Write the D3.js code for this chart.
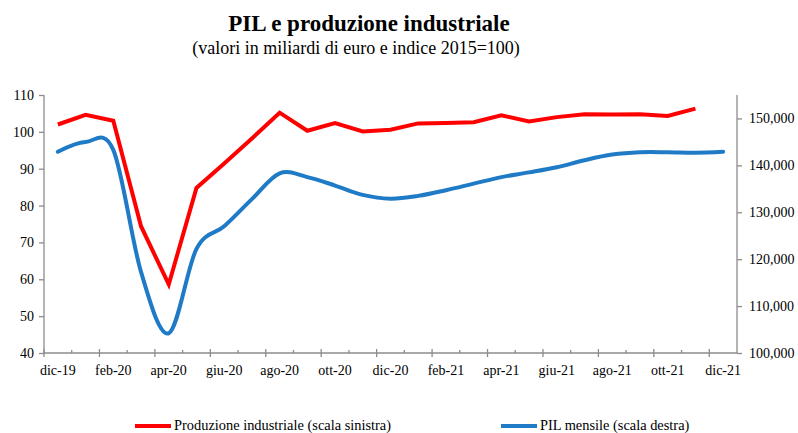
<!DOCTYPE html>
<html>
<head>
<meta charset="utf-8">
<script src="https://cdn.jsdelivr.net/npm/d3@7"></script>
<style>
  body { margin: 0; background: #fff; }
  text { font-family: "Liberation Serif", "Times New Roman", serif; fill: #000; }
</style>
</head>
<body>
<div id="chart"></div>
<script>
// data
const months = ["dic-19","gen-20","feb-20","mar-20","apr-20","mag-20","giu-20","lug-20","ago-20","set-20","ott-20","nov-20",
  "dic-20","gen-21","feb-21","mar-21","apr-21","mag-21","giu-21","lug-21","ago-21","set-21","ott-21","nov-21","dic-21"];
const produzione = [102.0, 104.6, 103.0, 74.4, 58.6, 84.8, 91.4, 98.2, 105.2, 100.3, 102.4, 100.1,
  100.6, 102.3, 102.4, 102.6, 104.5, 102.8, 104.0, 104.8, 104.7, 104.8, 104.3, 106.3];
const pil = [142900, 145000, 143300, 117300, 104200, 122200, 127000, 132800, 138300, 137500, 135700, 133700,
  132900, 133500, 134700, 136100, 137500, 138500, 139600, 141100, 142300, 142800, 142800, 142700, 142900];
const leftTicks = [40, 50, 60, 70, 80, 90, 100, 110];
const rightTicks = [100000, 110000, 120000, 130000, 140000, 150000];

const W = 798, H = 433;
const margin = {top: 95, right: 61, bottom: 80, left: 44};
const width = W - margin.left - margin.right;
const height = H - margin.top - margin.bottom;

const root = d3.select("#chart").append("svg")
  .attr("width", W)
  .attr("height", H);

root.append("text")
  .attr("x", 369).attr("y", 31)
  .attr("text-anchor", "middle")
  .attr("font-size", 23).attr("font-weight", "bold")
  .text("PIL e produzione industriale");
root.append("text")
  .attr("x", 356).attr("y", 54)
  .attr("text-anchor", "middle")
  .attr("font-size", 18)
  .text("(valori in miliardi di euro e indice 2015=100)");

const svg = root.append("g")
  .attr("transform", `translate(${margin.left},${margin.top})`);

const x = d3.scaleBand().domain(months).range([0, width]).padding(0);
const yL = d3.scaleLinear().domain([40, 110]).range([height, 0]);
const yR = d3.scaleLinear().domain([100000, 155000]).range([height, 0]);

const axisColor = "#8c8c8c";

// left axis
const leftAxis = svg.append("g")
  .call(d3.axisLeft(yL).tickValues(leftTicks).tickSize(5).tickPadding(5));
// right axis
const rightAxis = svg.append("g")
  .attr("transform", `translate(${width},0)`)
  .call(d3.axisRight(yR).tickValues(rightTicks).tickSize(5).tickPadding(7)
    .tickFormat(d3.format(",")));

[leftAxis, rightAxis].forEach(g => {
  g.select(".domain").attr("stroke", axisColor).attr("stroke-width", 1.3).attr("d", `M0,${height}V0`);
  g.selectAll(".tick line").attr("stroke", axisColor).attr("stroke-width", 1.3);
  g.selectAll(".tick text").attr("font-family", "Liberation Serif").attr("font-size", 14).attr("fill", "#000");
});

// bottom axis: ticks between months, labels at month centres every 2 months
const bottom = svg.append("g").attr("transform", `translate(0,${height})`);
bottom.append("line")
  .attr("x1", 0).attr("x2", width)
  .attr("stroke", axisColor).attr("stroke-width", 1.3);
bottom.selectAll(".tk")
  .data(months)
  .join("line")
  .attr("class", "tk")
  .attr("x1", d => x(d)).attr("x2", d => x(d))
  .attr("y1", (d, i) => i % 2 === 0 ? -4 : -3)
  .attr("y2", (d, i) => i % 2 === 0 ? 4 : 0)
  .attr("stroke", axisColor).attr("stroke-width", 1.3);
bottom.selectAll(".lbl")
  .data(months.filter((d, i) => i % 2 === 0))
  .join("text")
  .attr("class", "lbl")
  .attr("x", d => x(d) + x.bandwidth() / 2)
  .attr("y", 22)
  .attr("text-anchor", "middle")
  .attr("font-size", 14)
  .text(d => d);

const cx = (d, i) => x(months[i]) + x.bandwidth() / 2;

svg.append("path")
  .datum(pil)
  .attr("fill", "none")
  .attr("stroke", "#1f7bc6")
  .attr("stroke-width", 4)
  .attr("stroke-linecap", "round")
  .attr("d", d3.line().x(cx).y(d => yR(d)).curve(d3.curveCardinal.tension(0)));

svg.append("path")
  .datum(produzione)
  .attr("fill", "none")
  .attr("stroke", "#ff0000")
  .attr("stroke-width", 4)
  .attr("stroke-linejoin", "miter")
  .attr("d", d3.line().x(cx).y(d => yL(d)));

// legend
const legend = [
  {label: "Produzione industriale (scala sinistra)", color: "#ff0000", x: 135},
  {label: "PIL mensile (scala destra)", color: "#1f7bc6", x: 501}
];
const lg = root.selectAll(".leg").data(legend).join("g")
  .attr("class", "leg")
  .attr("transform", d => `translate(${d.x},426)`);
lg.append("line")
  .attr("x1", 0).attr("x2", 36)
  .attr("stroke", d => d.color).attr("stroke-width", 4);
lg.append("text")
  .attr("x", 39).attr("y", 4)
  .attr("font-size", 14.4)
  .text(d => d.label);
</script>
</body>
</html>
